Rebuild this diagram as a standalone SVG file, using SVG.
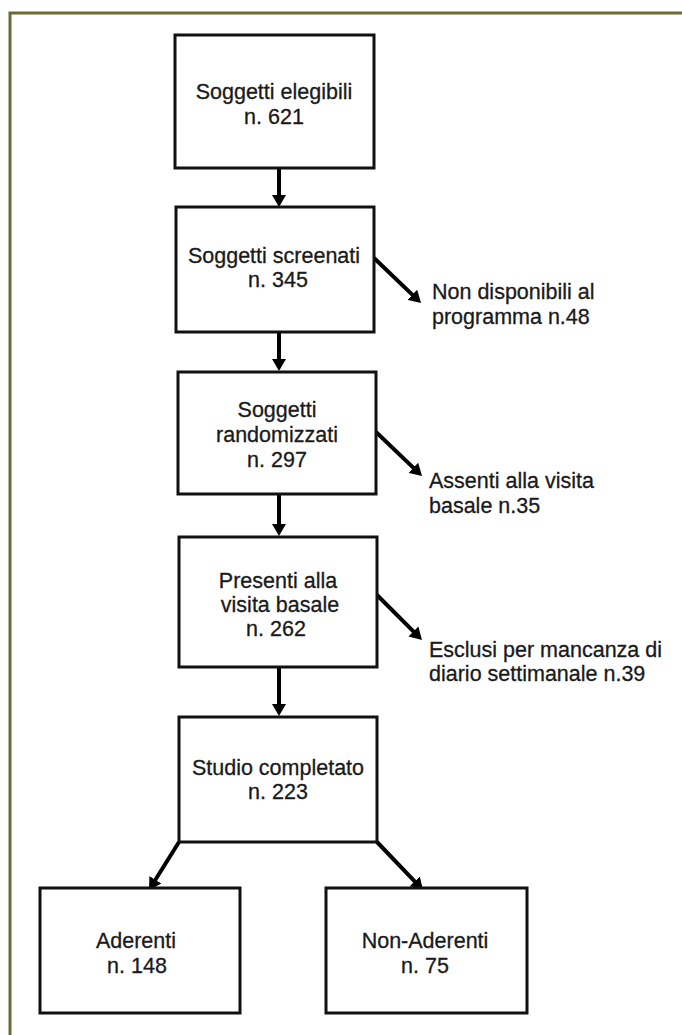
<svg xmlns="http://www.w3.org/2000/svg" width="682" height="1035" viewBox="0 0 682 1035">
  <defs>
    <style>
      .box { fill: #ffffff; stroke: #111111; stroke-width: 3; }
      .lbl { font-family: "Liberation Sans", Arial, sans-serif; font-size: 21.5px; fill: #1a1a1a; stroke: #1a1a1a; stroke-width: 0.3; }
      .ctr { text-anchor: middle; }
      .conn { stroke: #000000; stroke-width: 4; fill: none; marker-end: url(#arrow); }
      .frame { stroke: #6b6a32; stroke-width: 3; fill: none; }
    </style>
    <marker id="arrow" markerUnits="userSpaceOnUse" markerWidth="15" markerHeight="15" viewBox="0 -7.5 15 15" refX="2" refY="0" orient="auto">
      <path d="M0,-7 L12,0 L0,7 Z" fill="#000000"/>
    </marker>
  </defs>
  <rect x="0" y="0" width="682" height="1035" fill="#ffffff"/>
  <path class="frame" d="M682,13 L10,13 L10,1035"/>

  <g id="connectors">
    <line class="conn" x1="279" y1="168" x2="279" y2="197"/>
    <line class="conn" x1="279" y1="332" x2="279" y2="361"/>
    <line class="conn" x1="279" y1="494" x2="279" y2="526"/>
    <line class="conn" x1="279" y1="667" x2="279" y2="706"/>
    <line class="conn" x1="374" y1="258" x2="413.8" y2="296.1"/>
    <line class="conn" x1="376" y1="432" x2="414.8" y2="469.1"/>
    <line class="conn" x1="377" y1="595" x2="414.9" y2="632.9"/>
    <line class="conn" x1="179" y1="842" x2="154.3" y2="881.5"/>
    <line class="conn" x1="377" y1="842" x2="416.1" y2="882.8"/>
  </g>

  <g id="node-elegibili">
    <rect class="box" x="175" y="35" width="199" height="133"/>
    <text class="lbl ctr" x="274" y="99">Soggetti elegibili</text>
    <text class="lbl ctr" x="274" y="124">n. 621</text>
  </g>
  <g id="node-screenati">
    <rect class="box" x="176" y="207" width="198" height="125"/>
    <text class="lbl ctr" x="274" y="263">Soggetti screenati</text>
    <text class="lbl ctr" x="278" y="287">n. 345</text>
  </g>
  <g id="node-randomizzati">
    <rect class="box" x="178" y="372" width="198" height="122"/>
    <text class="lbl ctr" x="277" y="417">Soggetti</text>
    <text class="lbl ctr" x="277" y="442">randomizzati</text>
    <text class="lbl ctr" x="277" y="467">n. 297</text>
  </g>
  <g id="node-presenti">
    <rect class="box" x="179" y="537" width="198" height="130"/>
    <text class="lbl ctr" x="278" y="588">Presenti alla</text>
    <text class="lbl ctr" x="280" y="612">visita basale</text>
    <text class="lbl ctr" x="276" y="636">n. 262</text>
  </g>
  <g id="node-completato">
    <rect class="box" x="179" y="717" width="198" height="125"/>
    <text class="lbl ctr" x="278" y="775">Studio completato</text>
    <text class="lbl ctr" x="278" y="799">n. 223</text>
  </g>
  <g id="node-aderenti">
    <rect class="box" x="40" y="888" width="200" height="125"/>
    <text class="lbl ctr" x="136" y="948">Aderenti</text>
    <text class="lbl ctr" x="137" y="973">n. 148</text>
  </g>
  <g id="node-nonaderenti">
    <rect class="box" x="326" y="888" width="201" height="125"/>
    <text class="lbl ctr" x="425" y="948">Non-Aderenti</text>
    <text class="lbl ctr" x="425" y="973">n. 75</text>
  </g>

  <g id="label-nondisponibili">
    <text class="lbl" x="432" y="299">Non disponibili al</text>
    <text class="lbl" x="432" y="324">programma n.48</text>
  </g>
  <g id="label-assenti">
    <text class="lbl" x="429" y="488">Assenti alla visita</text>
    <text class="lbl" x="429" y="513">basale n.35</text>
  </g>
  <g id="label-esclusi">
    <text class="lbl" x="429" y="657">Esclusi per mancanza di</text>
    <text class="lbl" x="429" y="681">diario settimanale n.39</text>
  </g>
</svg>
